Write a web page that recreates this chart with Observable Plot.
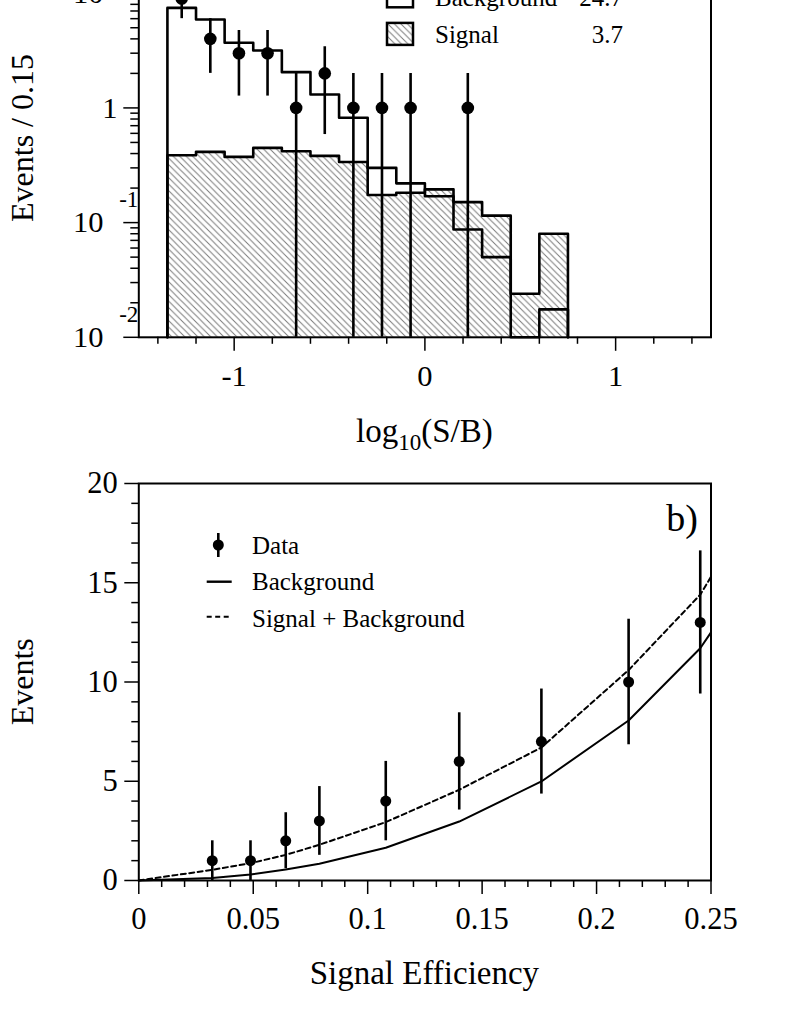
<!DOCTYPE html>
<html><head><meta charset="utf-8">
<script src="https://cdn.jsdelivr.net/npm/d3@7"></script>
<script src="https://cdn.jsdelivr.net/npm/@observablehq/plot@0.6"></script>
<style>
html,body{margin:0;padding:0;background:#fff;}
#page{position:relative;width:787px;height:1019px;overflow:hidden;background:#fff;}
#top,#bottom,#overlay{position:absolute;left:0;}
#top{top:-82.5px;}
#bottom{top:463.3px;}
#overlay{top:0;}
svg{overflow:visible;}
svg text{font-family:"Liberation Serif","Times New Roman",serif;}
</style></head><body>
<div id="page"><div id="top"></div><div id="bottom"></div><svg id="overlay" width="787" height="1019"></svg></div>
<script>
// ---------- Panel a) : log10(S/B) histogram ----------
const binLow = [-1.35,-1.2,-1.05,-0.9,-0.75,-0.6,-0.45,-0.3,-0.15,0,0.15,0.3,0.45,0.6];
const binWidth = 0.15;
const background = [7.45,5.9,3.7,3.17,2.05,1.31,0.82,0.30,0.22,0.17,0.087,0.050,0,0.0175];
const signal = [0.387,0.414,0.374,0.448,0.419,0.382,0.338,0.174,0.182,0.195,0.151,0.115,0.024,0.080];
const dataCounts = [9,4,3,3,1,2,1,1,1,0,1,0,0,0];
const topXMajor = [-1,0,1];
const topXMinor = [-1.4,-1.2,-0.8,-0.6,-0.4,-0.2,0.2,0.4,0.6,0.8,1.2,1.4];
const topYMajor = [0.01,0.1,1,10];
const topYMinor = [0.02,0.03,0.04,0.05,0.06,0.07,0.08,0.09,0.2,0.3,0.4,0.5,0.6,0.7,0.8,0.9,2,3,4,5,6,7,8,9,20];
const topYTen = [10,0.1,0.01];
const topYExp = [0.1,0.01];
const legendA = [["Background","24.7"],["Signal","3.7"]];

// ---------- Panel b) : events vs signal efficiency ----------
const effPoints = [0.0321,0.0488,0.0642,0.0789,0.1079,0.140,0.1759,0.214,0.2453];
const effData = [1,1,2,3,4,6,7,10,13];
const curveEff = [0,0.0321,0.0488,0.0642,0.0789,0.1079,0.140,0.1759,0.214,0.2453,0.25];
const bkgCurve = [0,0.13,0.30,0.55,0.84,1.65,2.97,4.99,8.06,11.7,12.5];
const sigBkgCurve = [0,0.54,0.87,1.29,1.80,2.94,4.57,6.7,10.6,14.4,15.3];
const botXMajor = [0,0.05,0.1,0.15,0.2,0.25];
const botXMinor = [0.01,0.02,0.03,0.04,0.06,0.07,0.08,0.09,0.11,0.12,0.13,0.14,0.16,0.17,0.18,0.19,0.21,0.22,0.23,0.24];
const botYMajor = [0,5,10,15,20];
const botYMinor = [1,2,3,4,6,7,8,9,11,12,13,14,16,17,18,19];
const legendB = ["Data","Background","Signal + Background"];

const FONT = '"Liberation Serif","Times New Roman",serif';
const yMin = 0.01;
const clampY = v => Math.max(v, yMin);
function stepPoints(vals){
  const pts = [{x: binLow[0], y: yMin}];
  vals.forEach((v,i) => pts.push({x: binLow[i], y: clampY(v)}));
  const last = binLow[binLow.length-1] + binWidth;
  pts.push({x: last, y: clampY(vals[vals.length-1])});
  pts.push({x: last, y: yMin});
  return pts;
}
const sigPts = stepPoints(signal);
const bkgPts = stepPoints(background);
const topPoints = binLow.map((lo,i) => ({x: lo + binWidth/2, n: dataCounts[i]})).filter(d => d.n > 0);

const topPlot = Plot.plot({
  width: 787, height: 548.8,
  marginLeft: 138.3, marginRight: 76.5, marginTop: 20, marginBottom: 130,
  x: {domain: [-1.5, 1.5], label: null},
  y: {type: "log", domain: [0.01, 30], label: null},
  style: {fontFamily: FONT, color: "black", background: "transparent", overflow: "visible"},
  marks: [
    Plot.areaY(sigPts, {x: d => d.x, y1: yMin, y2: d => d.y, curve: "step-after", fill: "url(#hatch)"}),
    Plot.lineY(sigPts, {x: d => d.x, y: d => d.y, curve: "step-after", stroke: "black", strokeWidth: 2.6}),
    Plot.lineY(bkgPts, {x: d => d.x, y: d => d.y, curve: "step-after", stroke: "black", strokeWidth: 2.6}),
    Plot.ruleX(topPoints, {x: d => d.x, y1: d => clampY(d.n - Math.sqrt(d.n)), y2: d => d.n + Math.sqrt(d.n), stroke: "black", strokeWidth: 2.6}),
    Plot.dot(topPoints, {x: d => d.x, y: d => d.n, r: 6.3, fill: "black", stroke: "none"}),
    Plot.frame({stroke: "black", strokeWidth: 2}),
    Plot.axisX(topXMajor, {tickSize: 14, strokeWidth: 1.5, fill: "none", label: null}),
    Plot.axisX(topXMinor, {tickSize: 7, strokeWidth: 1.5, fill: "none", label: null}),
    Plot.axisX(topXMajor, {tickSize: 0, tickPadding: 27, fontSize: 30.5, tickFormat: d => String(d), label: null}),
    Plot.axisY(topYMajor, {tickSize: 15, strokeWidth: 1.5, fill: "none", label: null}),
    Plot.axisY(topYMinor, {tickSize: 8, strokeWidth: 1.5, fill: "none", label: null}),
    Plot.axisY([1], {tickSize: 0, tickPadding: 21.3, fontSize: 30.5, tickFormat: () => "1", label: null}),
    Plot.axisY(topYTen, {tickSize: 0, tickPadding: 35.3, fontSize: 30.5, tickFormat: () => "10", label: null}),
    Plot.axisY(topYExp, {tickSize: 0, tickPadding: 0.5, fontSize: 23, dy: -23, tickFormat: d => String(Math.round(Math.log10(d))), label: null})
  ]
});
document.getElementById("top").appendChild(topPlot);

const botPts = effPoints.map((e,i) => ({x: e, n: effData[i]}));
const curvePts = curveEff.map((e,i) => ({x: e, b: bkgCurve[i], sb: sigBkgCurve[i]}));
const fmt = d => String(+d.toFixed(2));

const botPlot = Plot.plot({
  width: 787, height: 557,
  marginLeft: 138.3, marginRight: 76.5, marginTop: 20, marginBottom: 140,
  x: {domain: [0, 0.25], label: null},
  y: {domain: [0, 20], label: null},
  style: {fontFamily: FONT, color: "black", background: "transparent", overflow: "visible"},
  marks: [
    Plot.line(curvePts, {x: d => d.x, y: d => d.b, stroke: "black", strokeWidth: 2}),
    Plot.line(curvePts, {x: d => d.x, y: d => d.sb, stroke: "black", strokeWidth: 2, strokeDasharray: "5,3.5"}),
    Plot.ruleX(botPts, {x: d => d.x, y1: d => Math.max(d.n - Math.sqrt(d.n), 0), y2: d => d.n + Math.sqrt(d.n), stroke: "black", strokeWidth: 2.6}),
    Plot.dot(botPts, {x: d => d.x, y: d => d.n, r: 5.5, fill: "black", stroke: "none"}),
    Plot.frame({stroke: "black", strokeWidth: 2}),
    Plot.axisX(botXMajor, {tickSize: 14, strokeWidth: 1.5, fill: "none", label: null}),
    Plot.axisX(botXMinor, {tickSize: 7, strokeWidth: 1.5, fill: "none", label: null}),
    Plot.axisX(botXMajor, {tickSize: 0, tickPadding: 26.4, fontSize: 30.5, tickFormat: fmt, label: null}),
    Plot.axisY(botYMajor, {tickSize: 14, strokeWidth: 1.5, fill: "none", label: null}),
    Plot.axisY(botYMinor, {tickSize: 7, strokeWidth: 1.5, fill: "none", label: null}),
    Plot.axisY(botYMajor, {tickSize: 0, tickPadding: 21, fontSize: 30.5, tickFormat: d => String(d), label: null})
  ]
});
document.getElementById("bottom").appendChild(botPlot);

// ---------- overlay: hatch pattern, titles, legends ----------
const ov = d3.select("#overlay");
const defs = ov.append("defs");
const pat = defs.append("pattern").attr("id", "hatch").attr("patternUnits", "userSpaceOnUse")
  .attr("width", 6.5).attr("height", 6.5);
pat.append("path").attr("d", "M-1,-1 L7.5,7.5 M-1,5.5 L1,7.5 M5.5,-1 L7.5,1")
  .attr("stroke", "#7a7a7a").attr("stroke-width", 1).attr("fill", "none");

function txt(x, y, s, size, anchor){
  return ov.append("text").attr("x", x).attr("y", y).attr("font-size", size)
    .attr("text-anchor", anchor || "start").attr("fill", "black").style("font-family", FONT).text(s);
}
// axis titles
ov.append("text").attr("transform", "translate(33,138) rotate(-90)").attr("text-anchor", "middle")
  .attr("font-size", 32).style("font-family", FONT).text("Events / 0.15");
ov.append("text").attr("transform", "translate(33,681.8) rotate(-90)").attr("text-anchor", "middle")
  .attr("font-size", 32).style("font-family", FONT).text("Events");
const t1 = ov.append("text").attr("x", 424.4).attr("y", 442).attr("text-anchor", "middle")
  .attr("font-size", 33).style("font-family", FONT);
t1.append("tspan").text("log");
t1.append("tspan").attr("font-size", 23).attr("dy", 8).text("10");
t1.append("tspan").attr("dy", -8).text("(S/B)");
txt(424.4, 984, "Signal Efficiency", 33, "middle");
txt(698, 531, "b)", 38, "end");

// legend a)
const rowA = [-3.7, 33.9];
legendA.forEach(([name, val], i) => {
  const cy = rowA[i];
  ov.append("rect").attr("x", 387).attr("y", cy - 11).attr("width", 26).attr("height", 22)
    .attr("fill", i === 0 ? "white" : "url(#hatch)").attr("stroke", "black").attr("stroke-width", 2.5);
  txt(435, cy + 9.4, name, 25);
  txt(623, cy + 9.4, val, 25, "end");
});

// legend b)
ov.append("line").attr("x1", 218.3).attr("x2", 218.3).attr("y1", 533).attr("y2", 557)
  .attr("stroke", "black").attr("stroke-width", 2.6);
ov.append("circle").attr("cx", 218.3).attr("cy", 545).attr("r", 5.5).attr("fill", "black");
ov.append("line").attr("x1", 206.7).attr("x2", 231.7).attr("y1", 581.7).attr("y2", 581.7)
  .attr("stroke", "black").attr("stroke-width", 2.4);
ov.append("line").attr("x1", 206.7).attr("x2", 231.7).attr("y1", 616.7).attr("y2", 616.7)
  .attr("stroke", "black").attr("stroke-width", 2).attr("stroke-dasharray", "5,3.5");
txt(252, 554, legendB[0], 25);
txt(252, 590, legendB[1], 25);
txt(252, 627, legendB[2], 25);
</script>
</body></html>
